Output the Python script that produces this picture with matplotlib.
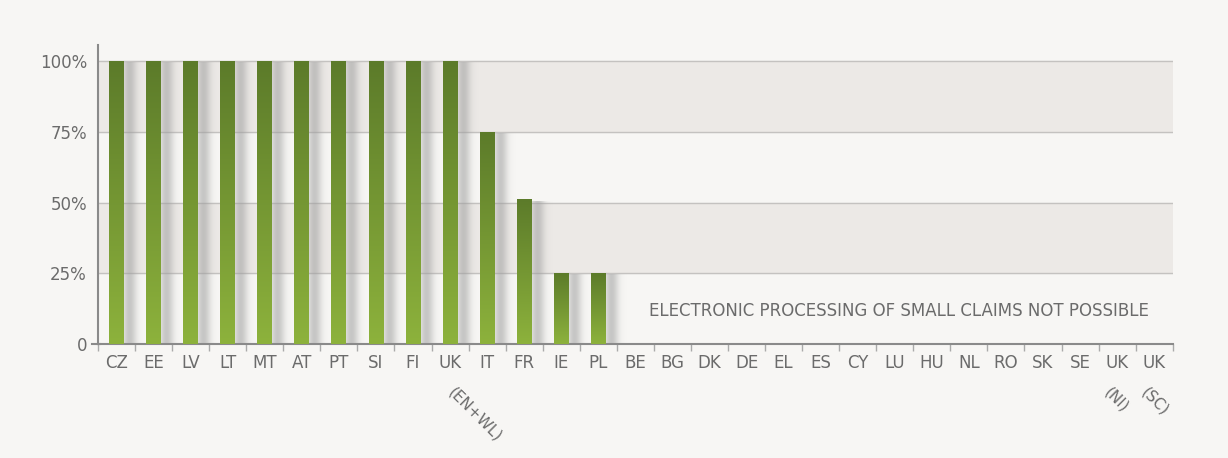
import numpy as np
import matplotlib.pyplot as plt
from matplotlib.colors import LinearSegmentedColormap

# pays et part des demandes traitees electroniquement
countries = ['CZ', 'EE', 'LV', 'LT', 'MT', 'AT', 'PT', 'SI', 'FI', 'UK', 'IT', 'FR', 'IE', 'PL',
             'BE', 'BG', 'DK', 'DE', 'EL', 'ES', 'CY', 'LU', 'HU', 'NL', 'RO', 'SK', 'SE', 'UK', 'UK']
sub_labels = {9: '(EN+WL)', 27: '(NI)', 28: '(SC)'}
values = [100, 100, 100, 100, 100, 100, 100, 100, 100, 100, 75, 51, 25, 25,
          0, 0, 0, 0, 0, 0, 0, 0, 0, 0, 0, 0, 0, 0, 0]
yticks = [0, 25, 50, 75, 100]
ytick_labels = ['0', '25%', '50%', '75%', '100%']
note = 'ELECTRONIC PROCESSING OF SMALL CLAIMS NOT POSSIBLE'

bg = '#f7f6f4'
band = '#ece9e6'
txt = '#6b6b6b'

fig = plt.figure(figsize=(12.28, 4.58), dpi=100, facecolor=bg)
ax = fig.add_axes([0.0798, 0.249, 0.8752, 0.652])
ax.set_facecolor(bg)

n = len(countries)
ax.set_xlim(-0.45, n - 0.5)
ax.set_ylim(0, 105.7)

# bandes grises et lignes horizontales
ax.axhspan(25, 50, color=band, zorder=0)
ax.axhspan(75, 100, color=band, zorder=0)
for y in yticks[1:]:
    ax.axhline(y, color='#c4c2c0', lw=1, zorder=1)

green = LinearSegmentedColormap.from_list('g', ['#8db23c', '#5c7b2a'])
grad_v = np.linspace(0, 1, 256).reshape(-1, 1)

# profil de l'ombre (gris flou a droite de la barre)
t = np.linspace(0, 1, 64)
alpha = 0.55 * np.exp(-((t - 0.3) / 0.28) ** 2)
shadow_img = np.zeros((1, 64, 4))
shadow_img[0, :, :3] = 0.62
shadow_img[0, :, 3] = alpha

w = 0.40
for i, v in enumerate(values):
    if v <= 0:
        continue
    x0 = i - w / 2
    ax.imshow(shadow_img, aspect='auto', origin='lower',
              extent=(x0 + w - 0.05, x0 + w + 0.6, 0, v - 0.5), zorder=2, interpolation='bicubic')
    ax.imshow(grad_v, cmap=green, aspect='auto', origin='lower',
              extent=(x0, x0 + w, 0, v), zorder=3, interpolation='bicubic', vmin=0, vmax=1)

ax.text(21.1, 11.5, note, ha='center', va='center', fontsize=12, color=txt)

for s in ['top', 'right']:
    ax.spines[s].set_visible(False)
for s in ['left', 'bottom']:
    ax.spines[s].set_color('#8a8a8a')
    ax.spines[s].set_linewidth(1.5)

ax.set_yticks(yticks)
ax.set_yticklabels(ytick_labels, fontsize=12, color=txt)
ax.tick_params(axis='y', length=0, pad=8)
ax.set_xticks(np.arange(n + 1) - 0.5)
ax.set_xticklabels([])
ax.tick_params(axis='x', length=5, color='#aaaaaa', width=1)
ax.plot([-0.65, -0.45], [0, 0], color='#8a8a8a', lw=1.5, clip_on=False)

for i, c in enumerate(countries):
    ax.text(i, -3.5, c, ha='center', va='top', fontsize=12, color=txt, clip_on=False)
    if i in sub_labels:
        dx = 0.17 if i == 9 else -0.13
        ax.text(i + dx, -14.5, sub_labels[i], ha='left', va='top', fontsize=11, color=txt,
                rotation=-45, rotation_mode='anchor', clip_on=False)

fig.savefig('out.png', dpi=100, facecolor=bg)
